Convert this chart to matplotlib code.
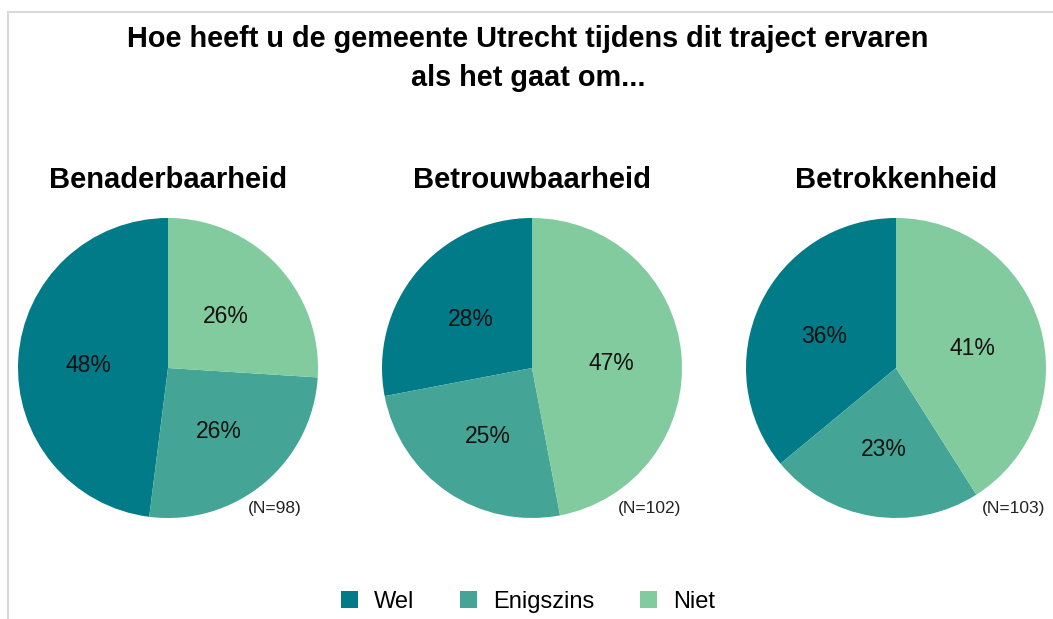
import matplotlib
matplotlib.use("Agg")
import matplotlib.pyplot as plt
from matplotlib.patches import Patch
from matplotlib.lines import Line2D

plt.rcParams['font.family'] = ['Liberation Sans', 'DejaVu Sans']

# data
categories = ["Wel", "Enigszins", "Niet"]
aspects = ["Benaderbaarheid", "Betrouwbaarheid", "Betrokkenheid"]
wel = [48, 28, 36]
enigszins = [26, 25, 23]
niet = [26, 47, 41]
n_labels = ["(N=98)", "(N=102)", "(N=103)"]
colors = ["#007b87", "#44a596", "#82cb9e"]

W, H = 1053, 619
fig = plt.figure(figsize=(W / 100, H / 100), dpi=100)

# light frame like the original screenshot
fig.add_artist(Line2D([8 / W, 8 / W], [0, 1 - 12 / H], color="#d9d9d9", lw=1.5))
fig.add_artist(Line2D([8 / W, 1], [1 - 12 / H, 1 - 12 / H], color="#d9d9d9", lw=1.5))

fig.text(528 / W, 1 - 39 / H, "Hoe heeft u de gemeente Utrecht tijdens dit traject ervaren",
         ha="center", va="center", fontsize=20.8, fontweight="bold")
fig.text(528 / W, 1 - 78 / H, "als het gaat om...",
         ha="center", va="center", fontsize=20.8, fontweight="bold")

centers = [168, 532, 896]
n_offsets = [80, 86, 86]  # left edge of the (N=..) note, from pie centre
r = 150
cy = 368
for i, name in enumerate(aspects):
    vals = [wel[i], enigszins[i], niet[i]]
    cx = centers[i]
    ax = fig.add_axes([(cx - r) / W, (H - cy - r) / H, 2 * r / W, 2 * r / H])
    wedges, texts = ax.pie(vals, colors=colors, startangle=90, counterclock=True,
                           labels=[f"{v}%" for v in vals], labeldistance=0.53,
                           wedgeprops=dict(linewidth=0))
    for t in texts:
        t.set_fontsize(16.5)
        t.set_color("#111111")
        t.set_ha("center")
        t.set_va("center_baseline")
    ax.set_xlim(-1, 1)
    ax.set_ylim(-1, 1)
    ax.set_aspect("equal")
    ax.axis("off")
    fig.text(cx / W, 1 - 180 / H, name, ha="center", va="center",
             fontsize=21, fontweight="bold")
    fig.text((cx + n_offsets[i]) / W, 1 - 509 / H, n_labels[i], ha="left", va="center",
             fontsize=12.5, color="#222222")

handles = [Patch(facecolor=c, edgecolor="none") for c in colors]
fig.legend(handles, categories, loc="center", bbox_to_anchor=(528 / W, 1 - 602 / H),
           ncol=3, frameon=False, fontsize=17, handlelength=0.72, handleheight=0.72,
           handletextpad=0.68, columnspacing=1.95)

fig.savefig("out.png", dpi=100)
